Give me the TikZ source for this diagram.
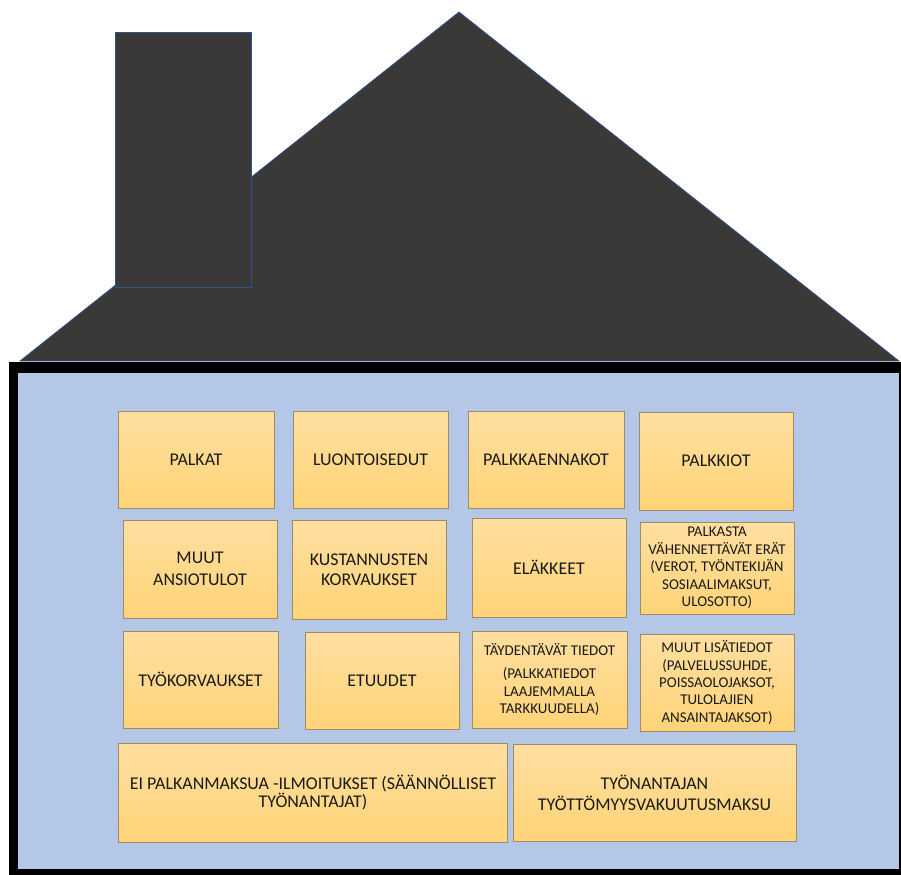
\documentclass[tikz,border=0pt]{standalone}
\usepackage{fontspec}
\setmainfont{Carlito}
\usetikzlibrary{positioning}
\definecolor{roof}{RGB}{58,57,56}
\definecolor{roofline}{RGB}{47,82,143}
\definecolor{wall}{RGB}{180,199,231}
\definecolor{boxtop}{RGB}{255,223,160}
\definecolor{boxbot}{RGB}{255,212,120}
\definecolor{boxline}{RGB}{160,140,100}
\definecolor{ink}{RGB}{25,25,25}

\begin{document}
\begin{tikzpicture}[x=1bp,y=-1bp,
  box/.style={draw=boxline, line width=1bp, top color=boxtop, bottom color=boxbot,
    inner sep=0pt, align=center, text=ink, font=\fontsize{18}{20}\selectfont},
  small/.style={font=\fontsize{15}{17.5}\selectfont}]
\useasboundingbox (0,0) rectangle (901,875);
% roof and chimney
\filldraw[fill=roof, draw=roofline, line width=0.75bp] (20,361)--(459,12)--(899,361)--cycle;
\filldraw[fill=roof, draw=roofline, line width=0.75bp] (115,32) rectangle (251,287);
% walls
\fill[black] (9,362) rectangle (901,875);
\fill[wall] (18,373) rectangle (899,869);
% first row
\node[box, minimum width=156bp, minimum height=97bp] (palkat) at (196,459.5) {PALKAT};
\node[box, minimum width=155bp, minimum height=97bp] (luontois) at (370.5,459.5) {LUONTOISEDUT};
\node[box, minimum width=156bp, minimum height=97bp] (ennakot) at (546,459.5) {PALKKAENNAKOT};
\node[box, minimum width=154bp, minimum height=98bp] (palkkiot) at (716,461) {PALKKIOT};
% second row
\node[box, minimum width=154bp, minimum height=98bp, font=\fontsize{18}{22}\selectfont] (ansio) at (200,569) {MUUT\\ANSIOTULOT};
\node[box, minimum width=154bp, minimum height=99bp] (kustannus) at (369,569.5) {KUSTANNUSTEN\\KORVAUKSET};
\node[box, minimum width=154bp, minimum height=99bp] (elake) at (549,567.5) {ELÄKKEET};
\node[box, small, minimum width=154bp, minimum height=92bp] (vahennys) at (717,568) {PALKASTA\\VÄHENNETTÄVÄT ERÄT\\(VEROT, TYÖNTEKIJÄN\\SOSIAALIMAKSUT,\\ULOSOTTO)};
% third row
\node[box, minimum width=155bp, minimum height=97bp] (tyokorv) at (200.5,679.5) {TYÖKORVAUKSET};
\node[box, minimum width=154bp, minimum height=97bp] (etuudet) at (382,680.5) {ETUUDET};
\node[box, small, minimum width=155bp, minimum height=97bp] (taydent) at (549.5,679.5) {TÄYDENTÄVÄT TIEDOT\\[6bp](PALKKATIEDOT\\LAAJEMMALLA\\TARKKUUDELLA)};
\node[box, small, minimum width=154bp, minimum height=97bp] (lisatiedot) at (717,682.5) {MUUT LISÄTIEDOT\\(PALVELUSSUHDE,\\POISSAOLOJAKSOT,\\TULOLAJIEN\\ANSAINTAJAKSOT)};
% last row
\node[box, minimum width=388bp, minimum height=99bp, font=\fontsize{18}{18.5}\selectfont] (eimaksua) at (313,792.5) {EI PALKANMAKSUA -ILMOITUKSET (SÄÄNNÖLLISET\\TYÖNANTAJAT)};
\node[box, minimum width=283bp, minimum height=97bp, font=\fontsize{18}{21}\selectfont] (tvmaksu) at (654.5,792.5) {TYÖNANTAJAN\\TYÖTTÖMYYSVAKUUTUSMAKSU};
\end{tikzpicture}
\end{document}
